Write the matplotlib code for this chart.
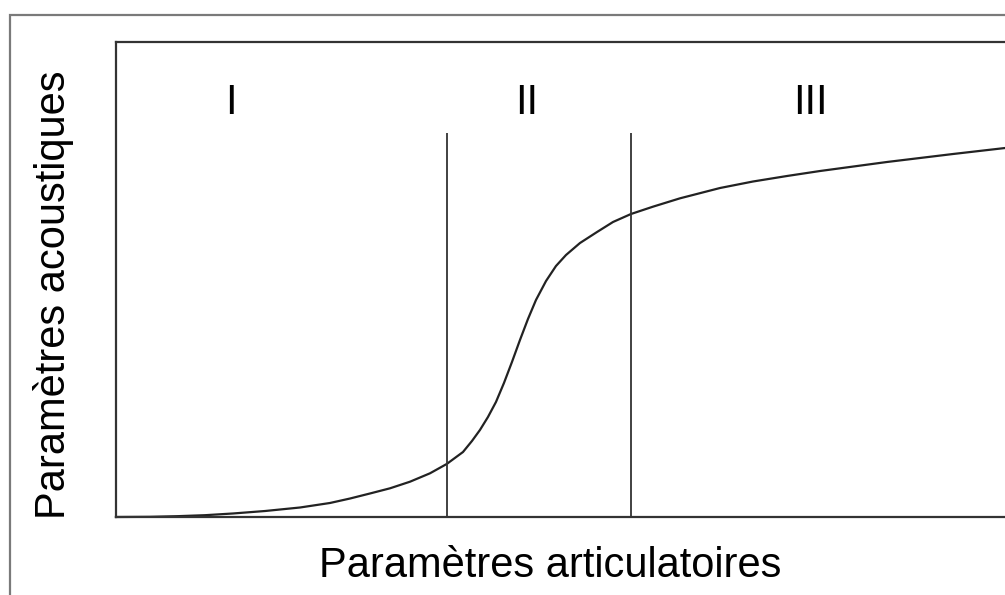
import matplotlib.pyplot as plt
from matplotlib.patches import Rectangle

# articulatory parameter (0-100) vs acoustic parameter (0-100)
artic = [0.0, 3.82, 6.86, 10.01, 13.16, 16.76, 20.70, 24.07, 26.32, 28.57,
         30.82, 33.07, 35.32, 37.20, 39.03, 40.04, 40.94, 41.84, 42.74, 43.64,
         44.54, 45.44, 46.34, 47.24, 48.37, 49.49, 50.62, 52.19, 54.11, 55.91,
         57.93, 60.40, 63.44, 67.94, 71.65, 75.48, 79.19, 86.73, 94.15, 100.0]
acoust = [0.0, 0.04, 0.17, 0.38, 0.74, 1.26, 2.00, 2.95, 3.89, 4.95,
          6.04, 7.43, 9.20, 11.16, 13.68, 16.00, 18.32, 21.05, 24.21, 28.21,
          32.63, 37.26, 41.68, 45.68, 49.68, 52.84, 55.16, 57.68, 60.00, 62.11,
          63.79, 65.33, 67.09, 69.26, 70.63, 71.79, 72.84, 74.74, 76.42, 77.68]

# region boundaries and labels
bounds = [37.2, 57.9]
bound_top = 80.8
regions = ["I", "II", "III"]
region_x = [12.9, 46.2, 78.1]
region_y = 87.2

plt.rcParams["font.family"] = ["Liberation Sans", "DejaVu Sans"]

fig = plt.figure(figsize=(10.05, 5.95), dpi=100)

# outer frame of the original figure (only top and left edges visible)
fig.patches.append(Rectangle((10 / 1005, -0.1), 1.2, 1 - 15 / 595 + 0.1,
                             transform=fig.transFigure, fill=False,
                             edgecolor="#7a7a7a", linewidth=1.6))

ax = fig.add_axes([116 / 1005, 78 / 595, 889 / 1005, 475 / 595])
ax.set_xlim(0, 100)
ax.set_ylim(0, 100)
ax.spines["right"].set_visible(False)
for side in ["left", "top", "bottom"]:
    ax.spines[side].set_linewidth(1.6)
    ax.spines[side].set_color("#333333")
ax.set_xticks([])
ax.set_yticks([])

ax.plot(artic, acoust, color="#222222", linewidth=1.6, solid_joinstyle="round",
        antialiased=True, clip_on=False)
ax.vlines(bounds, 0, bound_top, color="#333333", linewidth=1.3)

for label, x in zip(regions, region_x):
    ax.text(x, region_y, label, ha="center", va="center", fontsize=30)

fig.text(550 / 1005, 1 - 566 / 595, "Paramètres articulatoires",
         ha="center", va="center", fontsize=30)
fig.text(53 / 1005, 1 - 295 / 595, "Paramètres acoustiques",
         ha="center", va="center", rotation=90, fontsize=30)

fig.savefig("out.png", dpi=100)
